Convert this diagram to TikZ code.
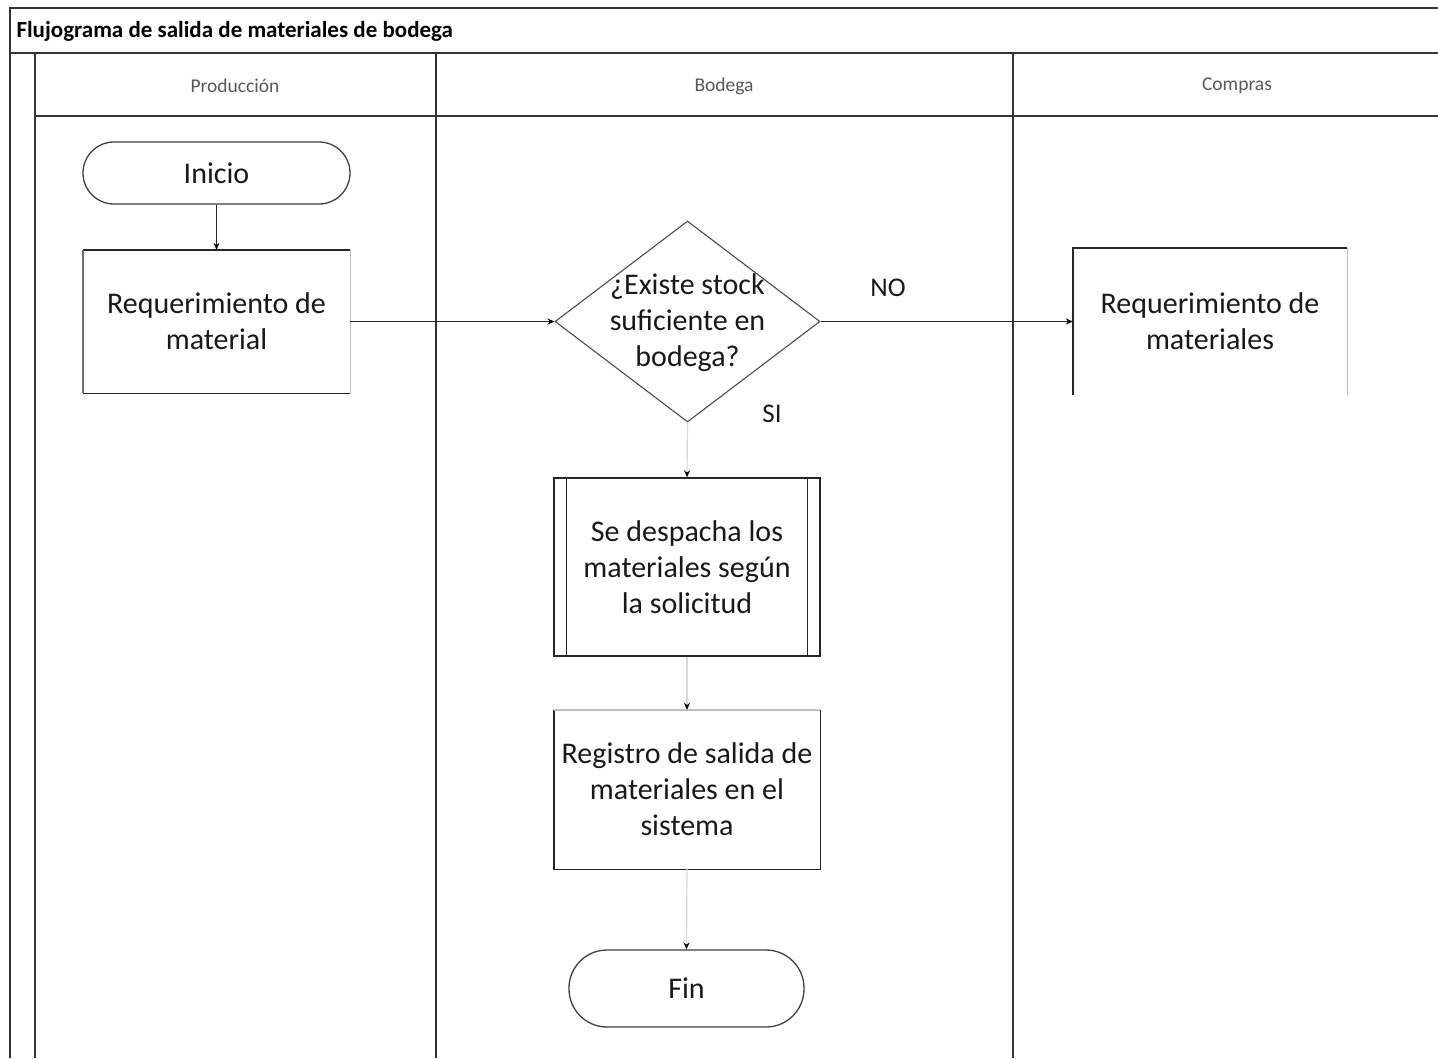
\documentclass[tikz,border=0pt]{standalone}
\usepackage{fontspec}
\setmainfont{Carlito}
\usetikzlibrary{arrows.meta,shapes.geometric}

\tikzset{
  frame/.style={draw=black!80, line width=1.6pt},
  lanehead/.style={font=\fontsize{19.5}{22}\selectfont, text=black!65},
  body/.style={font=\fontsize{30}{36}\selectfont, align=center, text=black!90},
  terminal/.style={draw=black!75, line width=1.3pt, rounded corners=#1, inner sep=0pt},
  process/.style={inner sep=0pt},
  flow/.style={line width=1.2pt, draw=black!85, -{Stealth[length=7pt,width=6pt,black]}},
  faintflow/.style={line width=1.2pt, draw=black!15, -{Stealth[length=7pt,width=6pt,black]}},
  edge/.style={line width=1.4pt, draw=black!85},
  faintedge/.style={line width=1.4pt, draw=black!25},
  answer/.style={font=\fontsize{27}{30}\selectfont, text=black!90}
}

\begin{document}
\begin{tikzpicture}[x=1pt,y=-1pt]
  \useasboundingbox (0,0) rectangle (1438,1058);
  \fill[white] (0,0) rectangle (1438,1058);

  % swimlane frame
  \draw[frame] (1438,8) -- (10,8) -- (10,1058);
  \draw[frame] (10,53) -- (1438,53);
  \draw[frame] (35,53) -- (35,1058);
  \draw[frame] (35,116) -- (1438,116);
  \draw[frame] (436,53) -- (436,1058);
  \draw[frame] (1013,53) -- (1013,1058);

  \node[anchor=west, font=\bfseries\fontsize{23}{25}\selectfont] (title) at (13,31) {Flujograma de salida de materiales de bodega};
  \node[lanehead] (hprod) at (235,86) {Producción};
  \node[lanehead] (hbod) at (724,86) {Bodega};
  \node[lanehead] (hcomp) at (1237,86) {Compras};

  % Producción
  \node[terminal=31pt, minimum width=267pt, minimum height=62pt, body] (ini) at (216.5,173) {Inicio};
  \node[process, minimum width=267pt, minimum height=143pt, body] (req) at (216.5,321.5) {Requerimiento de\\material};
  \draw[edge] (req.north west) -- (req.north east);
  \draw[edge] (req.south west) -- (req.south east);
  \draw[line width=1.4pt, draw=black!55] (req.north west) -- (req.south west);
  \draw[faintedge] (req.north east) -- (req.south east);

  % Bodega
  \node[diamond, minimum width=265pt, minimum height=201pt, inner sep=0pt, draw=black!70, line width=1.1pt] (dec) at (687.5,321.5) {};
  \node[body, text depth=0pt] (dectext) at (687.5,320) {¿Existe stock\\suficiente en\\bodega?};

  \node[process, draw=black!85, line width=1.4pt, minimum width=266pt, minimum height=178pt, body] (sub) at (687,567) {Se despacha los\\materiales según\\la solicitud};
  \draw[edge] ([xshift=13pt]sub.north west) -- ([xshift=13pt]sub.south west);
  \draw[edge] ([xshift=-13pt]sub.north east) -- ([xshift=-13pt]sub.south east);

  \node[process, minimum width=266pt, minimum height=159pt, body] (reg) at (687,789.5) {Registro de salida de\\materiales en el\\sistema};
  \draw[edge] (reg.north west) -- (reg.south west) -- (reg.south east) -- (reg.north east);
  \draw[faintedge] (reg.north west) -- (reg.north east);

  \node[terminal=38pt, minimum width=235pt, minimum height=77pt, body] (fin) at (686.5,988.5) {Fin};

  % Compras
  \node[process, minimum width=274pt, minimum height=147pt, body] (comp) at (1210,321.5) {Requerimiento de\\materiales};
  \draw[edge] (comp.south west) -- (comp.north west) -- (comp.north east);
  \draw[faintedge] (comp.north east) -- (comp.south east);

  % connectors
  \draw[flow] (ini.south) -- (req.north);
  \draw[flow] (req.east) -- (dec.west);
  \draw[flow] (dec.east) -- (comp.west);
  \draw[faintflow] (dec.south) -- (sub.north);
  \draw[faintflow] (sub.south) -- (reg.north);
  \draw[faintflow] (reg.south) -- (fin.north);

  \node[answer] (lno) at (888,288) {NO};
  \node[answer] (lsi) at (772,414) {SI};
\end{tikzpicture}
\end{document}
